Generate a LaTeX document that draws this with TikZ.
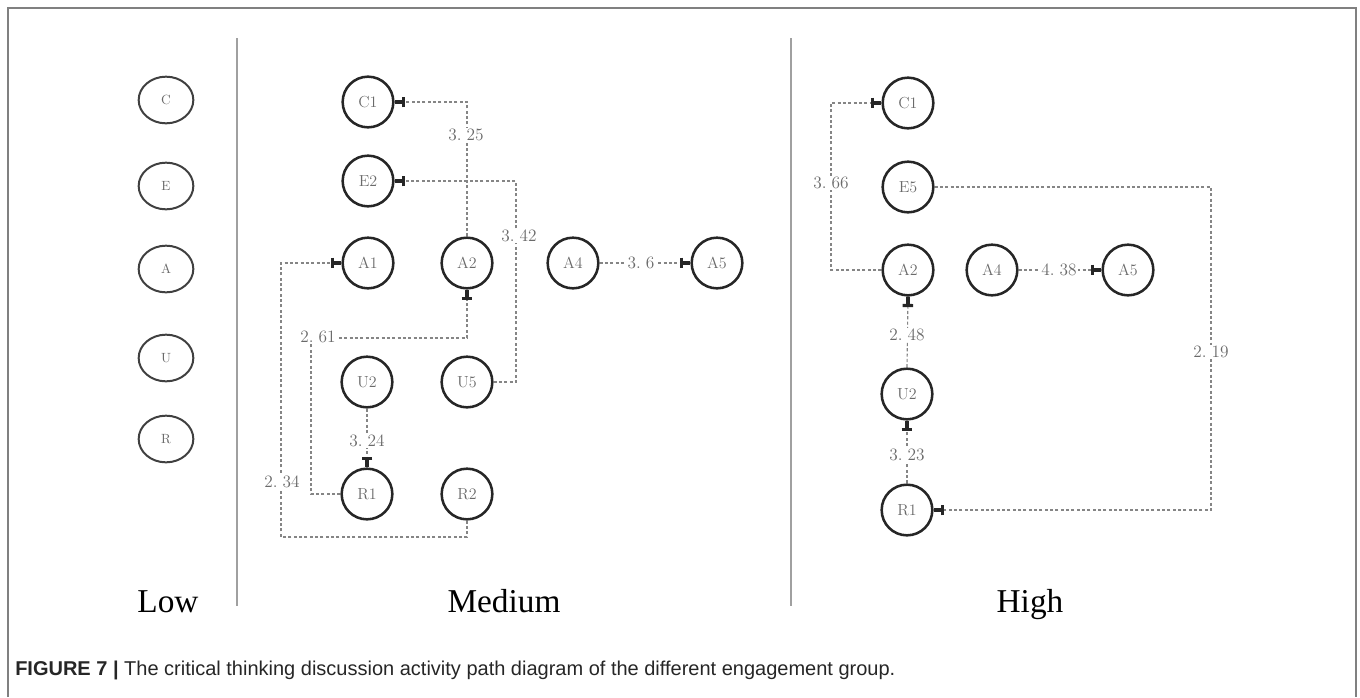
\documentclass[tikz,border=0pt]{standalone}
\usepackage{fontspec}
\usetikzlibrary{arrows.meta,shapes.geometric}
\newfontfamily\capfont{Liberation Sans}
\newfontfamily\groupfont{Liberation Serif}
\definecolor{framegray}{HTML}{808080}
\definecolor{sepgray}{HTML}{A0A0A0}
\definecolor{linegray}{HTML}{858585}
\definecolor{textgray}{HTML}{6A6A6A}
\newcommand{\wt}[2]{#1.\hspace{0.3em}#2}
\tikzset{
  state/.style={circle, draw=black!85, line width=1.9pt, minimum size=38pt, inner sep=0pt,
    font=\fontsize{12pt}{12pt}\selectfont, text=textgray},
  lowstate/.style={ellipse, draw=black!75, line width=1.5pt, minimum width=41pt, minimum height=35pt,
    inner sep=0pt, font=\fontsize{10pt}{10pt}\selectfont, text=textgray},
  path edge/.style={draw=linegray, line width=0.85pt, dash pattern=on 2.4pt off 1.6pt,
    -{Bar[width=8pt,line width=2.4pt,black!85]Rectangle[length=5.5pt,width=2.8pt,black!85]}},
  weight/.style={fill=white, inner sep=1pt, text=textgray, font=\fontsize{13pt}{13pt}\selectfont},
  group/.style={anchor=base, font=\groupfont\fontsize{25pt}{25pt}\selectfont, text=black},
}
\begin{document}
\begin{tikzpicture}[x=0.75pt,y=-0.75pt]
\useasboundingbox (0,0) rectangle (1360,697);
% outer frame, open at the bottom
\draw[framegray, line width=1.5pt] (8,697) -- (8,8) -- (1356,8) -- (1356,697);
% column separators
\draw[sepgray, line width=2.2pt] (237,38) -- (237,606);
\draw[sepgray, line width=2.2pt] (791,38) -- (791,606);

% ---- Low engagement ----
\node[lowstate] (lC) at (166,100) {C};
\node[lowstate] (lE) at (166,186) {E};
\node[lowstate] (lA) at (166,269) {A};
\node[lowstate] (lU) at (166,358) {U};
\node[lowstate] (lR) at (166,439) {R};
\node[group] (low) at (168,612) {Low};

% ---- Medium engagement ----
\node[state] (mC1) at (368,102) {C1};
\node[state] (mE2) at (368,181) {E2};
\node[state] (mA1) at (368,263) {A1};
\node[state] (mA2) at (467,263) {A2};
\node[state] (mA4) at (573,263) {A4};
\node[state] (mA5) at (717,263) {A5};
\node[state] (mU2) at (367,382) {U2};
\node[state] (mU5) at (467,382) {U5};
\node[state] (mR1) at (367,494) {R1};
\node[state] (mR2) at (467,494) {R2};
\node[group] (medium) at (504,612) {Medium};

\coordinate (mk42) at (516,263);
\coordinate (mk61) at (311,338);
\coordinate (mk34) at (281,537);

\draw[path edge] (mA2.north) |- (mC1.east);
\draw[path edge] (mU5.east) -| (mk42) |- (mE2.east);
\draw[path edge] (mR1.west) -| (mk61) -| (mA2.south);
\draw[path edge] (mR2.south) |- (mk34) |- (mA1.west);
\draw[path edge] (mU2.south) -- (mR1.north);
\draw[path edge] (mA4.east) -- (mA5.west);

\node[weight] at (466,135) {\wt{3}{25}};
\node[weight] at (519,236) {\wt{3}{42}};
\node[weight] at (318,337) {\wt{2}{61}};
\node[weight] at (282,482) {\wt{2}{34}};
\node[weight] at (367,441) {\wt{3}{24}};
\node[weight] at (641,263) {\wt{3}{6}};

% ---- High engagement ----
\node[state] (hC1) at (908,103) {C1};
\node[state] (hE5) at (908,187) {E5};
\node[state] (hA2) at (908,270) {A2};
\node[state] (hA4) at (992,270) {A4};
\node[state] (hA5) at (1128,270) {A5};
\node[state] (hU2) at (907,394) {U2};
\node[state] (hR1) at (907,510) {R1};
\node[group] (high) at (1030,612) {High};

\coordinate (hk66) at (831,184);
\coordinate (hk19) at (1211,352);

\draw[path edge] (hA2.west) -| (hk66) |- (hC1.west);
\draw[path edge] (hE5.east) -| (hk19) |- (hR1.east);
\draw[path edge] (hU2.north) -- (hA2.south);
\draw[path edge] (hR1.north) -- (hU2.south);
\draw[path edge] (hA4.east) -- (hA5.west);

\node[weight] at (831,183) {\wt{3}{66}};
\node[weight] at (1211,352) {\wt{2}{19}};
\node[weight] at (907,335) {\wt{2}{48}};
\node[weight] at (907,455) {\wt{3}{23}};
\node[weight] at (1059,270) {\wt{4}{38}};

% ---- caption ----
\node[anchor=base west, inner sep=0pt, font=\capfont\fontsize{15pt}{16pt}\selectfont, text=black!85]
  (caption) at (15,675) {\textbf{FIGURE 7 |} The critical thinking discussion activity path diagram of the different engagement group.};
\end{tikzpicture}
\end{document}
